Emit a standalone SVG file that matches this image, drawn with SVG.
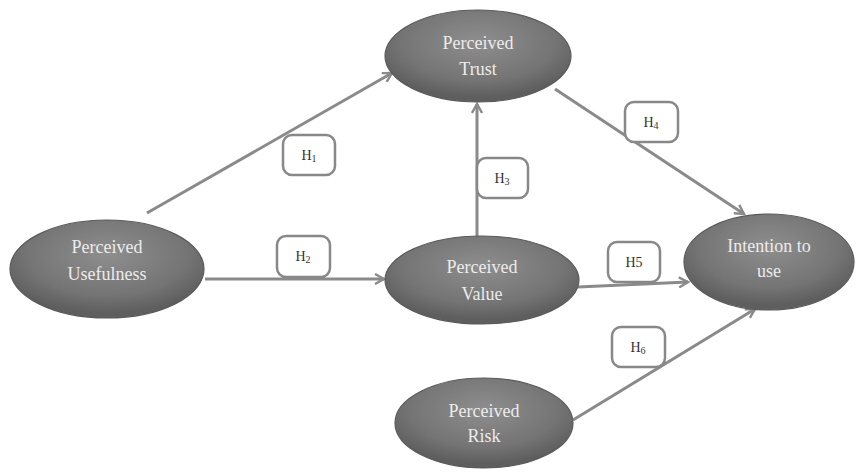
<svg xmlns="http://www.w3.org/2000/svg" width="858" height="473" viewBox="0 0 858 473">
<defs>
<radialGradient id="g" cx="50%" cy="35%" r="60%">
<stop offset="0" stop-color="#8e8e8e"/>
<stop offset="0.7" stop-color="#747474"/>
<stop offset="1" stop-color="#5e5e5e"/>
</radialGradient>
<marker id="arr" viewBox="0 0 12 12" refX="10" refY="6" markerWidth="12" markerHeight="12" markerUnits="userSpaceOnUse" orient="auto">
<polyline points="1,1 10,6 1,11" fill="none" stroke="#8a8a8a" stroke-width="2.4"/>
</marker>
</defs>
<style>
.node ellipse{fill:url(#g);stroke:#5a5a5a;stroke-width:1.2}
.node text{font-family:"Liberation Serif",serif;font-size:18px;fill:#ececec;text-anchor:middle}
.conn line{stroke:#8a8a8a;stroke-width:3;marker-end:url(#arr)}
.lbl rect{fill:#fff;stroke:#888;stroke-width:2.5}
.lbl text{font-family:"Liberation Serif",serif;font-size:14px;fill:#333;text-anchor:middle}
.sub{font-size:10px}
</style>
<rect width="858" height="473" fill="#fff"/>
<g id="connectors" class="conn">
<line x1="147" y1="213" x2="392" y2="73"/>
<line x1="205" y1="279" x2="384" y2="279"/>
<line x1="477" y1="237" x2="477" y2="104"/>
<line x1="555" y1="89" x2="744" y2="214"/>
<line x1="578" y1="287" x2="688" y2="282"/>
<line x1="573" y1="420" x2="755" y2="309"/>
</g>
<g id="labels" class="lbl">
<g id="H1"><rect x="283" y="135" width="52" height="40" rx="9"/><text x="309" y="160">H<tspan class="sub" dy="2">1</tspan></text></g>
<g id="H2"><rect x="277" y="236" width="53" height="41" rx="9"/><text x="303" y="261">H<tspan class="sub" dy="2">2</tspan></text></g>
<g id="H3"><rect x="477" y="158" width="51" height="40" rx="9"/><text x="502" y="183">H<tspan class="sub" dy="2">3</tspan></text></g>
<g id="H4"><rect x="625" y="102" width="53" height="40" rx="9"/><text x="651" y="127">H<tspan class="sub" dy="2">4</tspan></text></g>
<g id="H5"><rect x="608" y="242" width="52" height="40" rx="9"/><text x="634" y="267">H5</text></g>
<g id="H6"><rect x="612" y="327" width="53" height="40" rx="9"/><text x="638" y="352">H<tspan class="sub" dy="2">6</tspan></text></g>
</g>
<g id="trust" class="node"><ellipse cx="478" cy="56" rx="93" ry="46"/><text x="478" y="49">Perceived</text><text x="478" y="75">Trust</text></g>
<g id="usefulness" class="node"><ellipse cx="107" cy="269" rx="97" ry="49"/><text x="107" y="253">Perceived</text><text x="107" y="280">Usefulness</text></g>
<g id="value" class="node"><ellipse cx="482" cy="280" rx="97" ry="44"/><text x="482" y="273">Perceived</text><text x="482" y="300">Value</text></g>
<g id="intention" class="node"><ellipse cx="769" cy="262" rx="85" ry="48"/><text x="769" y="252">Intention to</text><text x="769" y="277">use</text></g>
<g id="risk" class="node"><ellipse cx="484" cy="423" rx="89" ry="45"/><text x="484" y="417">Perceived</text><text x="484" y="442">Risk</text></g>
</svg>
